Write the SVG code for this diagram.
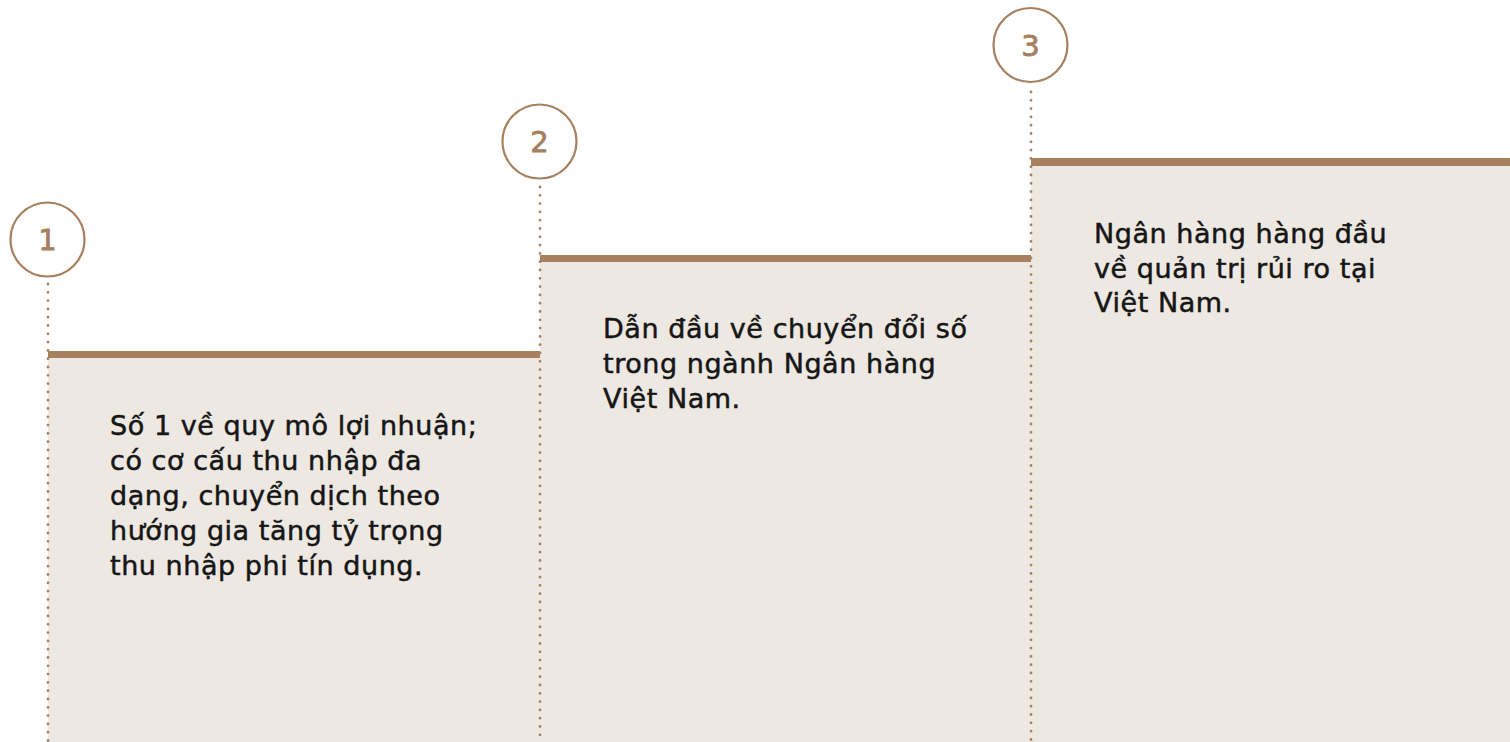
<svg xmlns="http://www.w3.org/2000/svg" width="1510" height="742" viewBox="0 0 1510 742">
<style>
.panel{fill:#ede8e2}
.bar{fill:#a6805f}
.ring{fill:#ffffff;stroke:#a6805f;stroke-width:2.2}
.num{font-family:"DejaVu Sans","Liberation Sans",sans-serif;font-size:29px;fill:#a6805f;stroke:#a6805f;stroke-width:0.8;text-anchor:middle}
.dot{stroke:#a6805f;stroke-width:2.8;stroke-linecap:round;stroke-dasharray:0 8.3;fill:none}
.txt{font-family:"DejaVu Sans","Liberation Sans",sans-serif;font-size:27px;letter-spacing:0.55px;fill:#161616;stroke:#161616;stroke-width:0.5}
</style>
<rect width="1510" height="742" fill="#ffffff"/>
<g id="panels">
<rect class="panel" x="48" y="358" width="492" height="384"/>
<rect class="panel" x="540" y="262" width="491" height="480"/>
<rect class="panel" x="1031" y="166" width="479" height="576"/>
<rect class="bar" x="48" y="351" width="492" height="7"/>
<rect class="bar" x="540" y="255" width="491" height="7"/>
<rect class="bar" x="1031" y="158" width="479" height="8"/>
</g>
<g id="connectors">
<path class="dot" d="M48 284 V742"/>
<path class="dot" d="M540 187 V742"/>
<path class="dot" d="M1031 92 V742"/>
</g>
<g id="step1">
<circle class="ring" cx="47.5" cy="239.5" r="37"/>
<text class="num" x="47.5" y="250">1</text>
<text class="txt"><tspan x="110" y="435">Số 1 về quy mô lợi nhuận;</tspan><tspan x="110" y="470">có cơ cấu thu nhập đa</tspan><tspan x="110" y="505">dạng, chuyển dịch theo</tspan><tspan x="110" y="540">hướng gia tăng tỷ trọng</tspan><tspan x="110" y="575">thu nhập phi tín dụng.</tspan></text>
</g>
<g id="step2">
<circle class="ring" cx="539.5" cy="141.5" r="37"/>
<text class="num" x="539.5" y="152">2</text>
<text class="txt"><tspan x="603" y="338">Dẫn đầu về chuyển đổi số</tspan><tspan x="603" y="373">trong ngành Ngân hàng</tspan><tspan x="603" y="408">Việt Nam.</tspan></text>
</g>
<g id="step3">
<circle class="ring" cx="1030.5" cy="45" r="37"/>
<text class="num" x="1030.5" y="55.5">3</text>
<text class="txt"><tspan x="1094" y="243">Ngân hàng hàng đầu</tspan><tspan x="1094" y="278">về quản trị rủi ro tại</tspan><tspan x="1094" y="312">Việt Nam.</tspan></text>
</g>
</svg>
